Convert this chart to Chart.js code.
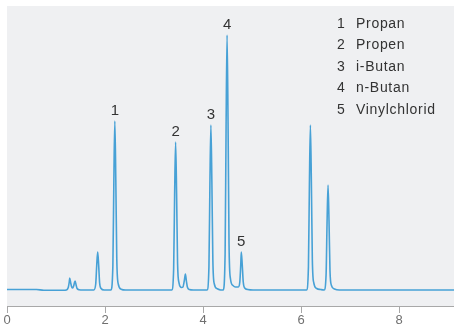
<!DOCTYPE html>
<html>
<head>
<meta charset="utf-8">
<script src="https://cdn.jsdelivr.net/npm/chart.js@4/dist/chart.umd.min.js"></script>
<style>
  html, body { margin: 0; padding: 0; background: #ffffff; }
  #wrap { width: 454px; height: 326px; position: relative; }
</style>
</head>
<body>
<div id="wrap"><canvas id="c" width="454" height="326"></canvas></div>
<script>
// Retention time (min) and detector signal
const times = [
  0.00, 0.60, 0.75, 1.15,
  1.21, 1.25, 1.27, 1.28, 1.30, 1.32,
  1.34, 1.36, 1.38, 1.39, 1.41, 1.43, 1.47, 1.55,
  1.75,
  1.77, 1.81, 1.83, 1.85, 1.87, 1.89, 1.92, 1.98,
  2.12, 2.16, 2.18, 2.20, 2.22, 2.24, 2.27, 2.33, 2.42,
  3.30,
  3.36, 3.40, 3.42, 3.44, 3.46, 3.48, 3.51, 3.56,
  3.59, 3.62, 3.64, 3.66, 3.68, 3.72, 3.80,
  4.05,
  4.08, 4.12, 4.14, 4.16, 4.18, 4.20, 4.23, 4.29, 4.36,
  4.41, 4.45, 4.47, 4.49, 4.51, 4.53, 4.56, 4.61, 4.66,
  4.72, 4.75, 4.77, 4.78, 4.80, 4.82, 4.85, 4.91, 5.02,
  6.05,
  6.11, 6.15, 6.17, 6.19, 6.21, 6.23, 6.26, 6.32, 6.40,
  6.47, 6.51, 6.53, 6.55, 6.57, 6.59, 6.62, 6.68, 6.78,
  9.12
];
const signal = [
  0.5, 0.5, -0.3, -0.3,
  0, 2.5, 8, 12, 7, 3,
  2, 4, 8, 9, 5, 1.5, 0.3, 0,
  0,
  0, 6, 24, 38, 25, 7, 1.5, 0,
  0, 24, 108, 169, 110, 31, 6, 0.8, 0,
  0,
  0, 21, 95, 148, 97, 27, 7, 2.5,
  3, 10, 16, 9, 3, 0.5, 0,
  0,
  0, 23, 106, 165, 108, 30, 6, 1.2, 0,
  0, 36, 163, 255, 168, 46, 11, 4.5, 3,
  3, 8, 26, 38, 25, 8, 2, 0.5, 0,
  0,
  0, 23, 106, 165, 108, 30, 7, 1.5, 0.5,
  0, 15, 67, 105, 69, 19, 4.5, 1, 0,
  0
];

// Peak annotations
const peakNumbers = ['1', '2', '3', '4', '5'];
const peakTimes = [2.20, 3.44, 4.16, 4.49, 4.78];
const peakHeights = [169, 148, 165, 255, 38];
const compoundNames = ['Propan', 'Propen', 'i-Butan', 'n-Butan', 'Vinylchlorid'];

// Axis
const xTicks = [0, 2, 4, 6, 8];
const xMin = 0, xMax = 9.12;
const yMin = -16, yMax = 284;

const points = times.map((t, i) => ({ x: t, y: signal[i] }));

const bgPlugin = {
  id: 'plotBg',
  beforeDraw(chart) {
    const { ctx, chartArea: a } = chart;
    ctx.save();
    ctx.fillStyle = '#eff0f2';
    ctx.fillRect(a.left, a.top, a.right - a.left, a.bottom - a.top);
    ctx.restore();
  }
};

const annotPlugin = {
  id: 'annot',
  afterDatasetsDraw(chart) {
    const { ctx, chartArea: a, scales } = chart;
    ctx.save();
    // peak numbers
    ctx.fillStyle = '#333333';
    ctx.font = '15px "Liberation Sans", Arial, sans-serif';
    ctx.textAlign = 'center';
    ctx.textBaseline = 'alphabetic';
    peakNumbers.forEach((n, i) => {
      const px = scales.x.getPixelForValue(peakTimes[i]);
      const py = scales.y.getPixelForValue(peakHeights[i]);
      ctx.fillText(n, px, py - 6.5);
    });
    // legend list
    ctx.font = '14px "Liberation Sans", Arial, sans-serif';
    const numX = a.right - 113;
    const nameX = a.right - 98;
    const top = a.top + 21.5;
    const step = 21.6;
    compoundNames.forEach((name, i) => {
      const y = top + i * step;
      ctx.letterSpacing = '0px';
      ctx.textAlign = 'center';
      ctx.fillText(peakNumbers[i], numX, y);
      ctx.textAlign = 'left';
      ctx.letterSpacing = '0.7px';
      ctx.fillText(name, nameX, y);
    });
    ctx.restore();
  }
};

new Chart(document.getElementById('c'), {
  type: 'line',
  data: {
    datasets: [{
      data: points,
      borderColor: '#47a1d6',
      borderWidth: 1.6,
      pointRadius: 0,
      fill: false,
      cubicInterpolationMode: 'monotone'
    }]
  },
  options: {
    responsive: false,
    animation: false,
    events: [],
    layout: { padding: { left: 7, top: 6, right: 0, bottom: 0 } },
    plugins: { legend: { display: false }, tooltip: { enabled: false } },
    scales: {
      x: {
        type: 'linear',
        min: xMin,
        max: xMax,
        afterFit(scale) { scale.height = 20; },
        afterBuildTicks(scale) { scale.ticks = xTicks.map(v => ({ value: v })); },
        ticks: {
          includeBounds: false,
          color: '#707070',
          padding: 0,
          maxRotation: 0,
          font: { family: '"Liberation Sans", Arial, sans-serif', size: 13 }
        },
        grid: {
          drawOnChartArea: false,
          drawTicks: true,
          tickLength: 7,
          color: '#a8a8a8',
          lineWidth: 1
        },
        border: { display: true, color: '#a8a8a8', width: 1 }
      },
      y: {
        display: false,
        min: yMin,
        max: yMax
      }
    }
  },
  plugins: [bgPlugin, annotPlugin]
});
</script>
</body>
</html>
